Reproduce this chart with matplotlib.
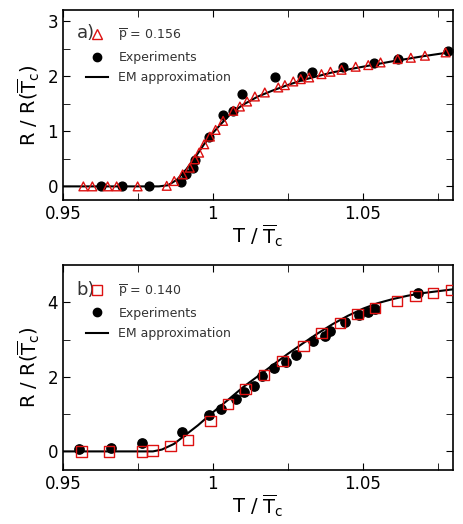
import matplotlib
matplotlib.use("Agg")
import matplotlib.pyplot as plt
from matplotlib.lines import Line2D

# Panel a
a_tri_T = [0.9568,0.9598,0.9649,0.9679,0.9749,0.9846,0.9871,0.9899,0.9923,0.9940,0.9954,0.9971,0.9990,1.0009,1.0034,1.0068,1.0090,1.0114,1.0140,1.0173,1.0218,1.0240,1.0268,1.0293,1.0321,1.0362,1.0392,1.0429,1.0476,1.0518,1.0559,1.0616,1.0660,1.0707,1.0776]
a_tri_R = [0,0,0,0,0,0.01,0.097,0.218,0.339,0.491,0.612,0.764,0.903,1.024,1.188,1.370,1.448,1.539,1.630,1.703,1.794,1.836,1.903,1.945,1.976,2.036,2.079,2.115,2.170,2.200,2.248,2.309,2.333,2.370,2.430]
a_exp_T = [0.9627,0.9698,0.9788,0.9893,0.9910,0.9932,0.9940,0.9988,1.0034,1.0068,1.0096,1.0207,1.0298,1.0329,1.0434,1.0538,1.0616,1.0784]
a_exp_R = [0,0,0.006,0.079,0.218,0.339,0.479,0.903,1.297,1.370,1.673,1.976,2.006,2.079,2.158,2.236,2.309,2.448]
a_em_T = [0.95,0.982,0.985,0.988,0.991,0.994,0.997,1.000,1.003,1.006,1.01,1.015,1.02,1.025,1.03,1.035,1.04,1.05,1.06,1.07,1.08]
a_em_R = [0,0,0.02,0.12,0.3,0.52,0.76,0.97,1.15,1.32,1.48,1.63,1.74,1.84,1.93,2.0,2.07,2.17,2.27,2.36,2.44]

# Panel b
b_sq_T = [0.9562,0.9654,0.9764,0.9799,0.9859,0.9918,0.9992,1.0051,1.0109,1.0170,1.0232,1.0302,1.0362,1.0423,1.0482,1.0540,1.0614,1.0676,1.0734,1.0796]
b_sq_R = [0,0,0,0.028,0.145,0.306,0.816,1.272,1.675,2.060,2.418,2.838,3.178,3.447,3.688,3.858,4.037,4.163,4.252,4.333]
b_exp_T = [0.9553,0.9660,0.9764,0.9896,0.9987,1.0026,1.0076,1.0104,1.0138,1.0164,1.0203,1.0243,1.0277,1.0334,1.0373,1.0390,1.0442,1.0488,1.0516,1.0540,1.0684]
b_exp_R = [0.064,0.091,0.216,0.529,0.986,1.138,1.406,1.603,1.764,2.033,2.239,2.409,2.597,2.963,3.107,3.223,3.482,3.661,3.751,3.822,4.243]
b_em_T = [0.95,0.980,0.983,0.987,0.991,0.995,1.0,1.005,1.01,1.015,1.02,1.025,1.03,1.035,1.04,1.045,1.05,1.055,1.06,1.065,1.07,1.08]
b_em_R = [0,0,0.05,0.2,0.45,0.7,1.05,1.38,1.72,2.02,2.32,2.62,2.9,3.17,3.42,3.64,3.83,3.98,4.09,4.18,4.25,4.35]

xticks = [0.95, 1.0, 1.05]
xticklabels = ["0.95", "1", "1.05"]

fig = plt.figure(figsize=(4.63, 5.24), dpi=100)
ax1 = fig.add_axes([0.136, 0.618, 0.842, 0.363])
ax2 = fig.add_axes([0.136, 0.103, 0.842, 0.391])

def style(ax, ylim, yticks, ymin):
    ax.set_xlim(0.95, 1.08)
    ax.set_ylim(*ylim)
    ax.set_xticks(xticks)
    ax.set_xticklabels(xticklabels)
    ax.set_xticks([0.975, 1.025, 1.075], minor=True)
    ax.set_yticks(yticks)
    ax.set_yticks(ymin, minor=True)
    ax.tick_params(which="both", direction="in", top=True, right=True, labelsize=12)
    ax.tick_params(which="major", length=5)
    ax.tick_params(which="minor", length=5)
    for s in ax.spines.values():
        s.set_linewidth(1.2)
    ax.set_xlabel(r"T / $\overline{\rm T}_{\rm c}$", fontsize=14, labelpad=0)
    ax.set_ylabel(r"R / R($\overline{\rm T}_{\rm c}$)", fontsize=14)

ax1.plot(a_em_T, a_em_R, color="black", lw=1.5, zorder=1)
ax1.scatter(a_exp_T, a_exp_R, s=40, color="black", zorder=2)
ax1.scatter(a_tri_T, a_tri_R, s=40, marker="^", facecolor="none", edgecolor="#dd1111", lw=1, zorder=3)
style(ax1, (-0.25, 3.2), [0, 1, 2, 3], [0.5, 1.5, 2.5])

ax2.plot(b_em_T, b_em_R, color="black", lw=1.5, zorder=1)
ax2.scatter(b_exp_T, b_exp_R, s=45, color="black", zorder=2)
ax2.scatter(b_sq_T, b_sq_R, s=55, marker="s", facecolor="none", edgecolor="#dd1111", lw=1, zorder=3)
style(ax2, (-0.5, 5.0), [0, 2, 4], [1, 3])

for ax, tag, mk, lab in [(ax1, "a)", "^", r"$\overline{\rm p}$ = 0.156"), (ax2, "b)", "s", r"$\overline{\rm p}$ = 0.140")]:
    h = [Line2D([], [], ls="none", marker=mk, mfc="none", mec="#dd1111", ms=7),
         Line2D([], [], ls="none", marker="o", color="black", ms=6),
         Line2D([], [], color="black", lw=1.5)]
    leg = ax.legend(h, [lab, "Experiments", "EM approximation"], loc="upper left",
                    bbox_to_anchor=(0.03, 0.97), frameon=False, fontsize=9,
                    handlelength=1.8, labelspacing=0.6, handletextpad=0.8)
    for t in leg.get_texts():
        t.set_color("#333333")
    ax.text(0.035, 0.855, tag, transform=ax.transAxes, fontsize=13, color="#333333")

fig.savefig("out.png", dpi=100)
